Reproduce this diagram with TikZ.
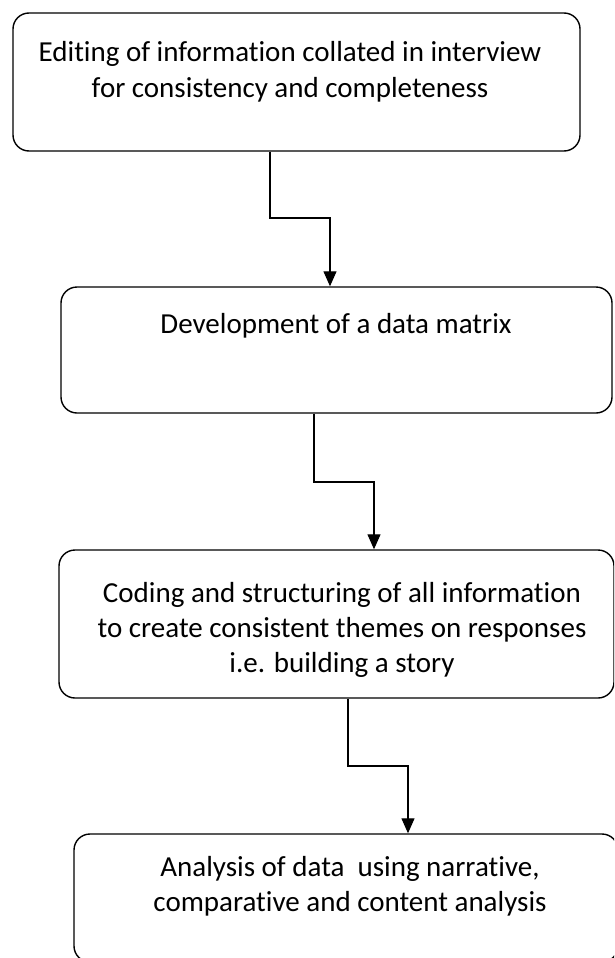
\documentclass[tikz,border=0pt]{standalone}
\usepackage{fontspec}
\setmainfont{Carlito}[Ligatures=NoCommon]
\usetikzlibrary{arrows.meta}
\begin{document}
\begin{tikzpicture}[x=1pt,y=-1pt,
  box/.style={draw, line width=1.4pt, rounded corners=16pt, inner sep=0pt},
  lbl/.style={anchor=base, align=center, inner sep=0pt, font=\fontsize{29}{35}\selectfont},
  conn/.style={line width=1.2pt},
  arr/.style={conn, -{Triangle[width=13pt,length=15pt]}}]
\useasboundingbox (0,0) rectangle (614,958);
\clip (0,0) rectangle (614,958);
% boxes
\node[box, minimum width=567pt, minimum height=138pt] (b1) at (296.5,82) {};
\node[box, minimum width=551pt, minimum height=126pt] (b2) at (336.5,350) {};
\node[box, minimum width=555pt, minimum height=148pt] (b3) at (336.5,624) {};
\node[box, minimum width=544pt, minimum height=128pt] (b4) at (346,898) {};
% texts (one node per box, lines placed by baseline)
\node[lbl] (t1) at (290,62) {Editing of information collated in interview};
\node[lbl] (t1b) at (290,97) {for consistency and completeness};
\node[lbl] (t2) at (336,333) {Development of a data matrix};
\node[lbl] (t3) at (342,602) {Coding and structuring of all information};
\node[lbl] (t3b) at (342,637) {to create consistent themes on responses};
\begin{scope}
\clip (59,550) rectangle (614,676);
\node[lbl] (t3c) at (342,672) {i.e. building a story};
\end{scope}
\node[lbl] (t4) at (350,876) {Analysis of data\ \ using narrative,};
\node[lbl] (t4b) at (350,911) {comparative and content analysis};
% connectors
\coordinate (e1a) at (270,218); \coordinate (e1b) at (330,218);
\coordinate (e2a) at (314,482); \coordinate (e2b) at (374,482);
\coordinate (e3a) at (348,766); \coordinate (e3b) at (408,766);
\draw[arr] (b1.south -| e1a) -- (e1a) -- (e1b) -- (b2.north -| e1b);
\draw[arr] (b2.south -| e2a) -- (e2a) -- (e2b) -- (b3.north -| e2b);
\draw[arr] (b3.south -| e3a) -- (e3a) -- (e3b) -- (b4.north -| e3b);
\end{tikzpicture}
\end{document}
